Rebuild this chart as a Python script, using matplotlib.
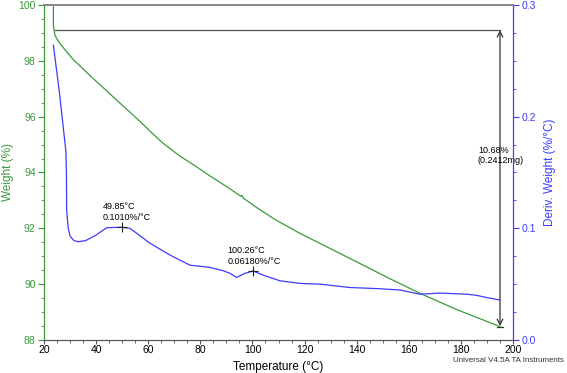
import matplotlib
matplotlib.use('Agg')
import matplotlib.pyplot as plt
from matplotlib.ticker import MultipleLocator

# Weight curve (%)
temp_w = [23.6, 23.6, 23.8, 24.2, 25.0, 26.0, 27.5, 29.0, 31.2, 34.0, 37.0, 40.0, 44.0,
          48.0, 53.0, 56.8, 61.0, 65.8, 72.0, 78.6, 84.0, 90.0, 95.5, 96.0, 96.5, 102.0,
          108.6, 118.2, 125.9, 140.0, 152.0, 164.3, 178.4, 195.0]
weight = [100.0, 99.3, 99.12, 98.92, 98.78, 98.64, 98.46, 98.29, 98.05, 97.8, 97.53, 97.27, 96.93,
          96.58, 96.16, 95.83, 95.45, 95.04, 94.6, 94.2, 93.86, 93.5, 93.15, 93.18, 93.08, 92.72,
          92.32, 91.82, 91.46, 90.8, 90.23, 89.67, 89.09, 88.48]

# Derivative curve (%/°C)
temp_d = [23.6, 26.0, 28.4, 28.6, 28.7, 29.3, 30.0, 31.5, 33.2, 36.0, 40.0, 44.0, 49.85, 53.0,
          60.7, 68.4, 76.0, 80.0, 83.7, 88.8, 91.4, 93.9, 97.1, 100.26, 104.2, 110.6, 118.2,
          125.9, 137.4, 148.0, 156.6, 164.3, 172.0, 182.2, 186.0, 189.9, 195.0]
deriv = [0.264, 0.220, 0.169, 0.150, 0.116, 0.100, 0.093, 0.089, 0.088, 0.089, 0.094, 0.1005, 0.1010, 0.100,
         0.0866, 0.076, 0.067, 0.066, 0.065, 0.062, 0.0597, 0.056, 0.0597, 0.0618, 0.058, 0.053, 0.0507,
         0.050, 0.047, 0.046, 0.0448, 0.041, 0.042, 0.041, 0.040, 0.038, 0.0358]

green = '#3a9a3a'
blue = '#3c3cff'
plt.rcParams['font.family'] = ['Liberation Sans', 'DejaVu Sans']

fig = plt.figure(figsize=(5.67, 3.73), dpi=100)
ax = fig.add_axes([0.0776, 0.0885, 0.8272, 0.8981])
ax2 = ax.twinx()

ax.plot(temp_w, weight, color=green, lw=0.9)
ax2.plot(temp_d, deriv, color=blue, lw=0.9)

ax.set_xlim(20, 200)
ax.set_ylim(88, 100)
ax2.set_ylim(0, 0.3)

ax.xaxis.set_major_locator(MultipleLocator(20))
ax.xaxis.set_minor_locator(MultipleLocator(5))
ax.yaxis.set_major_locator(MultipleLocator(2))
ax.yaxis.set_minor_locator(MultipleLocator(0.5))
ax2.yaxis.set_major_locator(MultipleLocator(0.1))
ax2.yaxis.set_minor_locator(MultipleLocator(0.025))

ax.tick_params(axis='x', which='major', length=3, labelsize=7.5, color='#555555', pad=0.5)
ax.tick_params(axis='x', which='minor', length=2, color='#555555')
ax.tick_params(axis='y', which='major', length=4, labelsize=7.5, colors=green, pad=2)
ax.tick_params(axis='y', which='minor', length=2, color=green)
ax2.tick_params(axis='y', which='major', length=4, labelsize=7.5, colors=blue, pad=2)
ax2.tick_params(axis='y', which='minor', length=2, color=blue)

for a in (ax, ax2):
    a.spines['top'].set_color('#888888')
    a.spines['bottom'].set_color('#555555')
    a.spines['left'].set_color(green)
    a.spines['right'].set_color(blue)
    a.spines['top'].set_linewidth(1.2)

ax.set_ylabel('Weight (%)', color=green, fontsize=8.5)
ax.yaxis.set_label_coords(-0.064, 0.5)
ax2.set_ylabel('Deriv. Weight (%/°C)', color=blue, fontsize=8.5)
ax2.yaxis.set_label_coords(1.066, 0.5)
ax.set_xlabel('Temperature (°C)', fontsize=8.5)
ax.xaxis.set_label_coords(0.5, -0.062)

# step-change markers
ax.plot([24.2, 195.0], [99.1, 99.1], color='#555555', lw=0.9)
ax.annotate('', xy=(195.0, 88.5), xytext=(195.0, 99.1),
            arrowprops=dict(arrowstyle='<->', color='#333333', lw=0.9, shrinkA=0, shrinkB=0))
ax.plot([194.0, 196.0], [88.48, 88.48], color='#333333', lw=0.9)
ax.text(186.5, 94.6, '10.68%\n(0.2412mg)', fontsize=6.5, va='center', ha='left', linespacing=1.2)

# peak markers
ax2.plot([49.85], [0.1010], marker='+', color='#222222', ms=7, mew=0.8)
ax2.text(42.5, 0.106, '49.85°C\n0.1010%/°C', fontsize=6.5, ha='left', va='bottom', linespacing=1.2)
ax2.plot([100.26], [0.0618], marker='+', color='#222222', ms=7, mew=0.8)
ax2.text(90.5, 0.0665, '100.26°C\n0.06180%/°C', fontsize=6.5, ha='left', va='bottom', linespacing=1.2)

fig.text(0.995, 0.034, 'Universal V4.5A TA Instruments', fontsize=5.7, ha='right', va='center', color='#333333')

fig.savefig('out.png', dpi=100)
